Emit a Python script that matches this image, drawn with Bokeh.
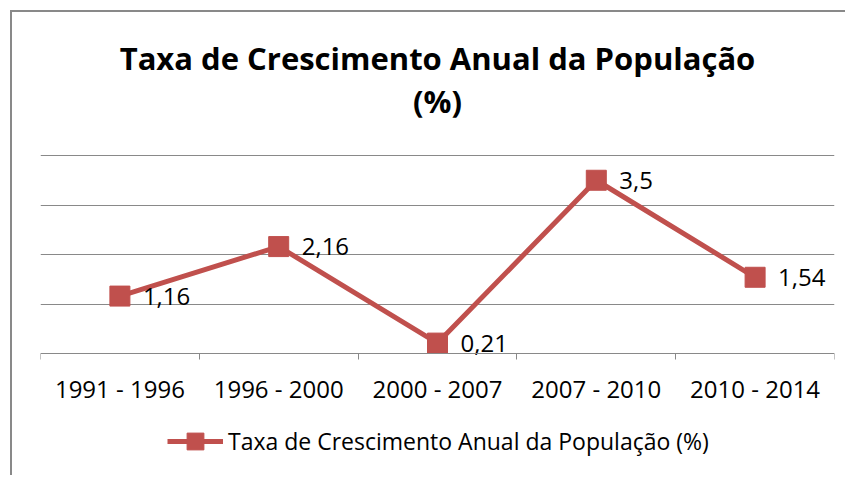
from bokeh.plotting import figure
from bokeh.models import (Range1d, FixedTicker, LinearAxis, Legend, LegendItem,
                          ColumnDataSource, Grid, Label)
from bokeh.core.properties import value
from bokeh.embed import file_html
from bokeh.resources import INLINE

categories = ["1991 - 1996", "1996 - 2000", "2000 - 2007", "2007 - 2010", "2010 - 2014"]
values = [1.16, 2.16, 0.21, 3.5, 1.54]
value_labels = ["1,16", "2,16", "0,21", "3,5", "1,54"]
series_name = "Taxa de Crescimento Anual da População (%)"
title_lines = ["Taxa de Crescimento Anual da População", "(%)"]
y_gridlines = [1, 2, 3, 4]

FONT = "Open Sans"
RED = "#C0504D"
GRID = "#898989"

xs = [i + 0.5 for i in range(len(categories))]
bounds = list(range(len(categories) + 1))
src = ColumnDataSource(dict(x=xs, y=values, lbl=value_labels))

# frame covers the whole chart area; value axis 0..4 occupies the middle band
p = figure(width=835, height=465, output_backend="svg", toolbar_location=None,
           x_range=Range1d(0, len(categories)), y_range=Range1d(-2.505, 6.889),
           min_border_left=28, min_border_right=13, min_border_top=0, min_border_bottom=0,
           x_axis_type=None, y_axis_type=None, outline_line_color=None, title=None)
p.styles = {"border-left": f"2px solid {GRID}", "border-top": f"2px solid {GRID}",
            "margin-left": "10px", "margin-top": "10px"}

for txt, ys in zip(title_lines, [420, 377]):
    p.add_layout(Label(x=len(categories) / 2, y=ys, y_units="screen", text=txt,
                       text_align="center", text_baseline="middle", text_font=FONT,
                       text_font_size="31px", text_font_style="bold", text_color="black"))

grid = Grid(dimension=1, ticker=FixedTicker(ticks=y_gridlines), grid_line_color=GRID,
            grid_line_width=1)
p.add_layout(grid)

ax = LinearAxis(ticker=FixedTicker(ticks=xs, minor_ticks=bounds), fixed_location=0,
                major_label_overrides={x: c for x, c in zip(xs, categories)})
ax.major_tick_out = 0
ax.major_tick_in = 0
ax.minor_tick_out = 6
ax.minor_tick_in = 0
ax.axis_line_color = GRID
ax.minor_tick_line_color = GRID
ax.major_label_text_font = FONT
ax.major_label_text_font_size = "24px"
ax.major_label_text_color = "black"
ax.major_label_standoff = 12
p.add_layout(ax, "below")

line_r = p.line("x", "y", source=src, line_color=RED, line_width=5)
sc_r = p.scatter("x", "y", source=src, marker="square", size=20, fill_color=RED,
                 line_color=RED)
p.text("x", "y", text="lbl", source=src, x_offset=23, text_baseline="middle",
       text_align="left", text_font=value(FONT), text_font_size="24px", text_color="black")

legend = Legend(items=[LegendItem(label=series_name, renderers=[line_r, sc_r])],
                location=(127, 15), orientation="horizontal", glyph_width=56, glyph_height=42,
                label_text_font=FONT, label_text_font_size="23px", label_standoff=5,
                label_text_color="black",
                border_line_alpha=0, background_fill_alpha=0, padding=0, margin=0)
p.add_layout(legend)

open("out.html", "w").write(file_html(p, INLINE))
